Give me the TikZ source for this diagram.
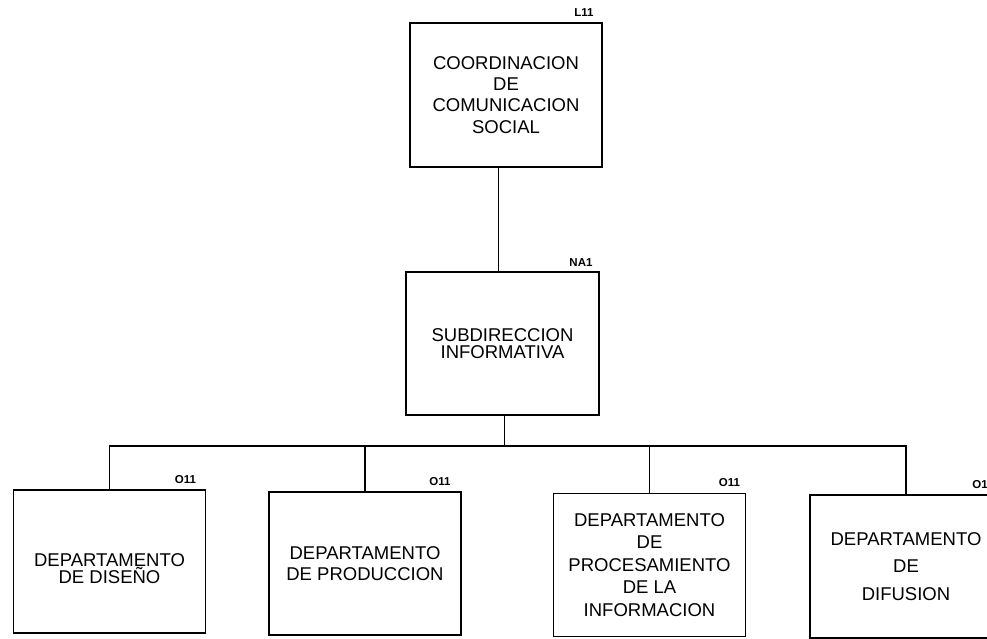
\documentclass[tikz,border=0pt]{standalone}
\usepackage{fontspec}
\setmainfont{Liberation Sans}
\begin{document}
\begin{tikzpicture}[x=1pt,y=-1pt,
  box/.style={draw=black, line width=1.3pt, fill=white, minimum width=192pt, minimum height=143pt, inner sep=0pt, align=center},
  code/.style={anchor=base east, inner sep=0pt, font=\fontsize{11.5}{12}\selectfont\bfseries},
  link/.style={line width=1.3pt}]
\path[use as bounding box] (0,0) rectangle (987,638);
\clip (0,0) rectangle (987,638);
\fill[white] (0,0) rectangle (987,638);

\node[box, minimum height=144pt, font=\fontsize{18.5}{21.2}\selectfont] (top) at (506,95) {COORDINACION\\DE\\COMUNICACION\\SOCIAL};
\node[box, minimum width=193pt, font=\fontsize{18.5}{16.7}\selectfont] (mid) at (502.5,343.5) {SUBDIRECCION\\INFORMATIVA};
\node[box, font=\fontsize{18.5}{15.5}\selectfont] (b1) at (109.5,561.5) {\rule{0pt}{27pt}DEPARTAMENTO\\DE DISEÑO};
\node[box, font=\fontsize{18.5}{20.5}\selectfont] (b2) at (365,563.5) {DEPARTAMENTO\\DE PRODUCCION};
\node[box, font=\fontsize{18.5}{22.4}\selectfont] (b3) at (649.5,565) {DEPARTAMENTO\\DE\\PROCESAMIENTO\\DE LA\\INFORMACION};
\node[box, font=\fontsize{18.5}{27.3}\selectfont] (b4) at (906,566.5) {DEPARTAMENTO\\DE\\DIFUSION};

\node[code] (l11) at ([xshift=-9pt,yshift=6pt]top.north east) {L11};
\node[code] (na1) at ([xshift=-7pt,yshift=5pt]mid.north east) {NA1};
\node[code] (o1) at ([xshift=-10pt,yshift=6pt]b1.north east) {O11};
\node[code] (o2) at ([xshift=-11pt,yshift=6pt]b2.north east) {O11};
\node[code] (o3) at ([xshift=-6pt,yshift=6pt]b3.north east) {O11};
\node[code] (o4) at ([xshift=-9pt,yshift=6pt]b4.north east) {O11};

\coordinate (bus) at (504.5,446);
\draw[link] ([xshift=-7.5pt]top.south) -- ([xshift=-7.5pt]top.south |- mid.north);
\draw[link] ([xshift=2pt]mid.south) -- ([xshift=2pt]mid.south |- bus);
\draw[link] (b1.north) |- (bus) -| (b4.north);
\draw[link] (b2.north) -- (b2.north |- bus);
\draw[link] (b3.north) -- (b3.north |- bus);
\end{tikzpicture}
\end{document}
